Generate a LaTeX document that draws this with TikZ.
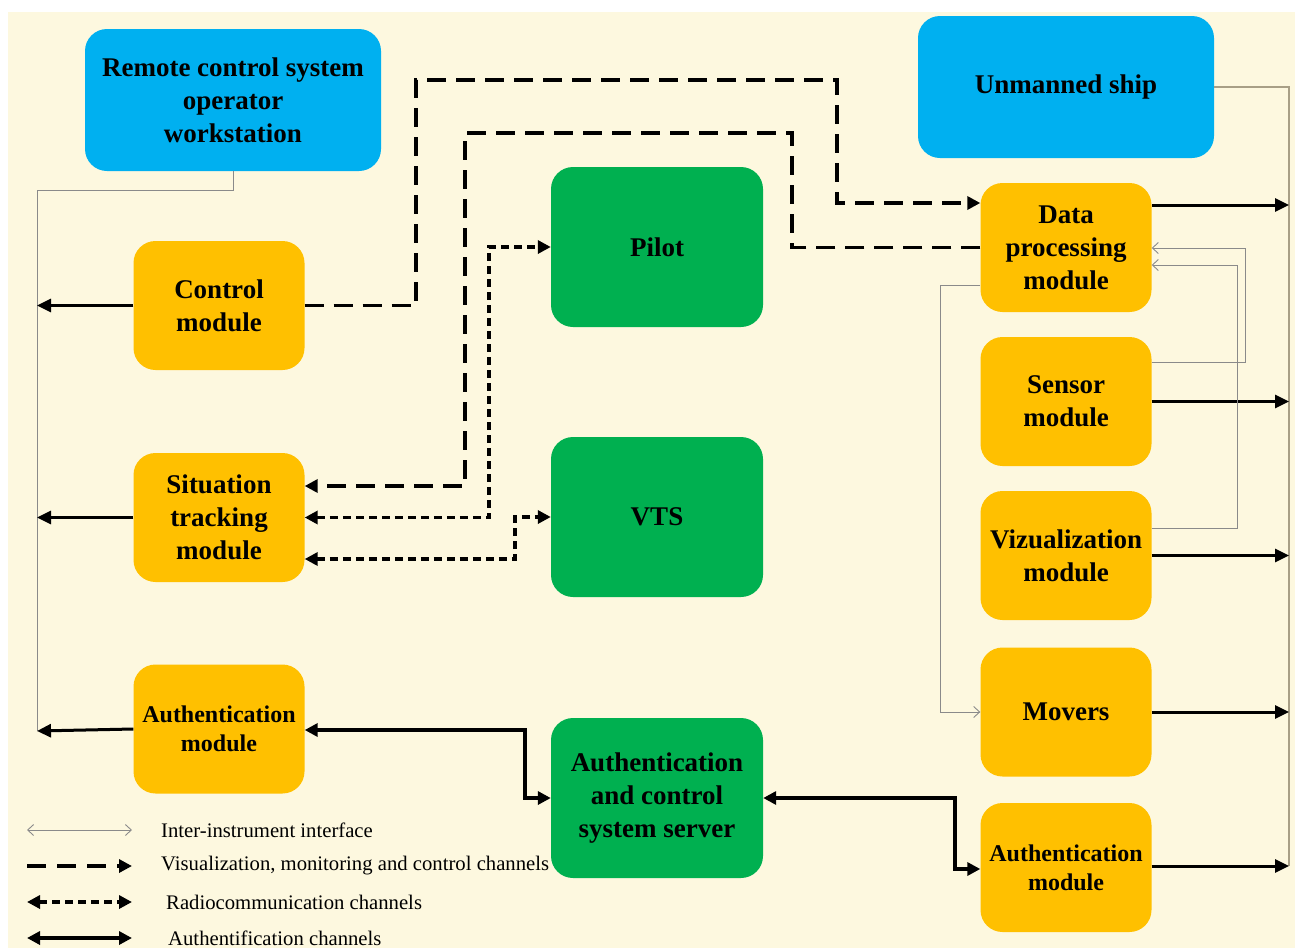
\documentclass[tikz,border=0pt]{standalone}
\usepackage{fontspec}
\setmainfont{Liberation Serif}
\usetikzlibrary{arrows.meta}
\definecolor{bg}{HTML}{FDF8DF}
\definecolor{cblue}{HTML}{00B0F0}
\definecolor{corange}{HTML}{FFC000}
\definecolor{cgreen}{HTML}{00B050}
\definecolor{cgray}{HTML}{8A8A8A}
\definecolor{cgray2}{HTML}{A89F86}
\begin{document}
\begin{tikzpicture}[x=1pt,y=-1pt,
  box/.style={rectangle,rounded corners=22pt,align=center,inner sep=0pt,
    font=\bfseries\fontsize{27}{33}\selectfont},
  bluebox/.style={box,fill=cblue,minimum width=296pt,minimum height=142pt},
  orbox/.style={box,fill=corange,minimum width=171pt,minimum height=129pt},
  smallfont/.style={font=\bfseries\fontsize{24}{29}\selectfont},
  grbox/.style={box,fill=cgreen,minimum width=212pt,minimum height=160pt},
  legendtext/.style={anchor=west,inner sep=0pt,font=\fontsize{20.7}{24}\selectfont},
  iface/.style={cgray,line width=0.9pt},
  ifarr/.style={iface,-{Straight Barb[length=6pt,width=11pt]}},
  ifboth/.style={iface,{Straight Barb[length=6pt,width=11pt]}-{Straight Barb[length=6pt,width=11pt]}},
  busline/.style={cgray2,line width=1.6pt},
  busarr/.style={line width=3pt,-{Triangle[length=14pt,width=13pt]}},
  vis/.style={line width=3.7pt,dash pattern=on 19pt off 10pt,-{Triangle[length=13pt,width=13pt]}},
  radio/.style={line width=3.7pt,dash pattern=on 8pt off 5pt,{Triangle[length=13pt,width=13pt]}-{Triangle[length=13pt,width=13pt]}},
  authc/.style={line width=3.6pt,{Triangle[length=13pt,width=13pt]}-{Triangle[length=13pt,width=13pt]}}
]
\useasboundingbox (0,0) rectangle (1295,948);
\fill[white] (0,0) rectangle (1295,948);
\fill[bg] (8,12) rectangle (1295,948);

% boxes
\node[bluebox] (rc) at (233,100) {Remote control system\\operator\\workstation};
\node[bluebox] (ship) at (1066,87) {Unmanned ship};
\node[orbox] (ctrl) at (219,305.5) {Control\\module};
\node[orbox] (sit) at (219,517.5) {Situation\\tracking\\module};
\node[orbox,smallfont] (authL) at (219,729) {Authentication\\module};
\node[grbox] (pilot) at (657,247) {Pilot};
\node[grbox] (vts) at (657,517) {VTS};
\node[grbox] (srv) at (657,798) {Authentication\\and control\\system server};
\node[orbox] (dp) at (1066,247.5) {Data\\processing\\module};
\node[orbox] (sens) at (1066,401.5) {Sensor\\module};
\node[orbox] (viz) at (1066,555.5) {Vizualization\\module};
\node[orbox] (mov) at (1066,712) {Movers};
\node[orbox,smallfont] (authR) at (1066,867.5) {Authentication\\module};

% left bus
\coordinate (lb0) at (37,190);
\coordinate (lb1) at (37,731);
\draw[iface] (rc.south) |- (lb0) -- (lb1);
\draw[busarr] (ctrl.west) -- (ctrl.west -| lb0);
\draw[busarr] (sit.west) -- (sit.west -| lb0);
\draw[busarr] (authL.west) -- (lb1);

% right bus
\coordinate (rb0) at (1289,87);
\coordinate (rb1) at (1289,866);
\draw[busline] (ship.east) -- (rb0) -- (rb1);
\draw[busarr] (dp.east |- 0,205) -- (rb0 |- 0,205);
\draw[busarr] (sens.east) -- (sens.east -| rb0);
\draw[busarr] (viz.east) -- (viz.east -| rb0);
\draw[busarr] (mov.east) -- (mov.east -| rb0);
\draw[busarr] (authR.east |- 0,866) -- (rb1);

% inter-instrument interfaces
\draw[ifarr] (sens.east |- 0,362) -- (1245,362) -- (1245,248) -- (dp.east |- 0,248);
\draw[ifarr] (viz.east |- 0,528) -- (1237,528) -- (1237,265) -- (dp.east |- 0,265);
\draw[ifarr] (dp.west |- 0,285) -- (940,285) -- (940,712) -- (mov.west);

% visualization / control channels
\draw[vis] (ctrl.east) -- (416,305.5) -- (416,80) -- (837,80) -- (837,203) -- (dp.west |- 0,203);
\draw[vis] (dp.west) -- (792,247.5) -- (792,133) -- (465,133) -- (465,486) -- (sit.east |- 0,486);

% radiocommunication channels
\draw[radio] (sit.east) -- (489,517.5) -- (489,247) -- (pilot.west);
\draw[radio] (sit.east |- 0,559) -- (515,559) -- (515,517) -- (vts.west);

% authentication channels
\draw[authc] (authL.east |- 0,730) -- (525,730) -- (525,798) -- (srv.west);
\draw[authc] (srv.east) -- (955,798) -- (955,869) -- (authR.west |- 0,869);

% legend
\coordinate (la1) at (27,830); \coordinate (lb1x) at (132,830);
\coordinate (la2) at (27,866); \coordinate (lb2x) at (132,866);
\coordinate (la3) at (27,902); \coordinate (lb3x) at (132,902);
\coordinate (la4) at (27,938); \coordinate (lb4x) at (132,938);
\draw[ifboth] (la1) -- (lb1x);
\draw[vis,dash pattern=on 19pt off 11pt] (la2) -- (lb2x);
\draw[radio] (la3) -- (lb3x);
\draw[authc] (la4) -- (lb4x);
\node[legendtext] (t1) at (161,830) {Inter-instrument interface};
\node[legendtext] (t2) at (161,866) {Visualization, monitoring and control channels};
\node[legendtext] (t3) at (166,902) {Radiocommunication channels};
\node[legendtext] (t4) at (168,938) {Authentification channels};
\end{tikzpicture}
\end{document}
